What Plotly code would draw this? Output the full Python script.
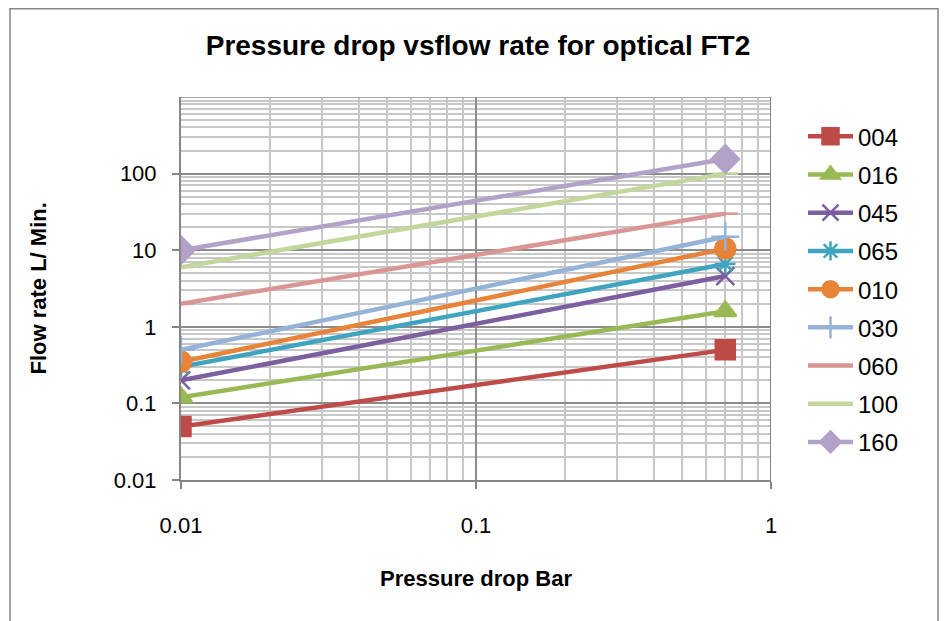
import plotly.graph_objects as go

pressure = [0.01, 0.7]
names = ["004", "016", "045", "065", "010", "030", "060", "100", "160"]
flows = {
    "004": [0.05, 0.5],
    "016": [0.12, 1.6],
    "045": [0.2, 4.6],
    "065": [0.3, 6.6],
    "010": [0.35, 10.5],
    "030": [0.5, 15],
    "060": [2, 30],
    "100": [6, 100],
    "160": [10, 155],
}
colors = ["#BE4B48", "#98B954", "#7D5FA0", "#3FA4BF", "#E8833A",
          "#95B3D7", "#D99694", "#C3D69B", "#B3A2C7"]
symbols = ["square", "triangle-up", "x-thin-open", "asterisk-open", "circle",
           "cross-thin-open", "line-ew-open", "line-ew-open", "diamond"]
sizes = [19, 19, 18, 17, 20, 20, 18, 18, 21]

# plot area in figure coords (page has an 8px body margin)
L, T, W, H = 173, 89, 590, 383

fig = go.Figure()
for i, n in enumerate(names):
    fig.add_trace(go.Scatter(
        x=pressure, y=flows[n], name=n, mode="lines+markers",
        legendgroup=n,
        line=dict(color=colors[i], width=4.5),
        marker=dict(symbol=symbols[i], size=sizes[i], color=colors[i],
                    line=dict(color=colors[i], width=2.5)),
    ))

fontfam = "Liberation Sans, Arial, sans-serif"
fig.update_layout(
    width=952, height=621,
    margin=dict(l=L, r=952 - L - W, t=T, b=621 - T - H),
    paper_bgcolor="white", plot_bgcolor="white",
    font=dict(family=fontfam, color="black", size=22),
    title=dict(text="<b>Pressure drop vsflow rate for optical FT2</b>",
               x=(478 - 8) / 952, xanchor="center", y=1 - 37 / 621, yanchor="middle",
               font=dict(size=28, family=fontfam)),
    showlegend=True,
    legend=dict(x=(795 - L) / W, y=0.955, xanchor="left", yanchor="top",
                font=dict(size=24), tracegroupgap=4, itemwidth=45,
                bgcolor="rgba(0,0,0,0)"),
)
fig.update_xaxes(
    type="log", range=[-2, 0], dtick=1,
    tickvals=[0.01, 0.1, 1], ticktext=["0.01", "0.1", "1"],
    tickfont=dict(size=22),
    showline=True, linecolor="#868686", linewidth=2,
    ticks="outside", ticklen=7, tickcolor="#868686", tickwidth=2,
    ticklabelstandoff=18,
    showgrid=True, gridcolor="#8C8C8C", gridwidth=1.5,
    minor=dict(showgrid=True, gridcolor="#C8C8C8", gridwidth=1.5,
               tickvals=[k * 10 ** e for e in (-2, -1) for k in range(2, 10)]),
    zeroline=False,
)
fig.update_yaxes(
    type="log", range=[-2, 3],
    tickvals=[0.01, 0.1, 1, 10, 100], ticktext=["0.01", "0.1", "1", "10", "100"],
    tickfont=dict(size=22),
    showline=True, linecolor="#868686", linewidth=2,
    ticks="outside", ticklen=7, tickcolor="#868686", tickwidth=2,
    ticklabelstandoff=11,
    showgrid=True, gridcolor="#8C8C8C", gridwidth=1.5,
    minor=dict(showgrid=True, gridcolor="#C8C8C8", gridwidth=1.5,
               tickvals=[k * 10 ** e for e in (-2, -1, 0, 1, 2) for k in range(2, 10)]),
    zeroline=False,
)
# top major grid at 1000 and right edge at 1
fig.add_shape(type="line", xref="paper", yref="y", x0=0, x1=1, y0=1000, y1=1000,
              line=dict(color="#8C8C8C", width=1.5))
fig.add_shape(type="line", xref="x", yref="paper", x0=1, x1=1, y0=0, y1=1,
              line=dict(color="#868686", width=2))

fig.add_annotation(text="<b>Flow rate L/ Min.</b>", xref="paper", yref="paper",
                   x=(30 - L) / W, y=0.5, xanchor="center", yanchor="middle",
                   textangle=-90, showarrow=False, font=dict(size=22))
fig.add_annotation(text="<b>Pressure drop Bar</b>", xref="paper", yref="paper",
                   x=0.5, y=(T + H - 570) / H, xanchor="center", yanchor="middle",
                   showarrow=False, font=dict(size=22))
fig.add_shape(type="rect", xref="paper", yref="paper",
              x0=(2 - L) / W, x1=(930 - L) / W,
              y0=(T + H - 650) / H, y1=(T + H - 0.8) / H,
              line=dict(color="#868686", width=1.5), layer="below")

fig.write_html("out.html")
